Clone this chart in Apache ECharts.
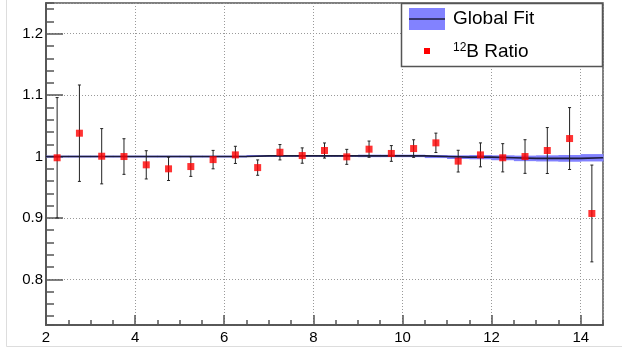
<!DOCTYPE html>
<html>
<head>
<meta charset="utf-8">
<script src="https://cdn.jsdelivr.net/npm/echarts@6/dist/echarts.min.js"></script>
<style>html,body{margin:0;padding:0;background:#fff}#c{width:622px;height:349px}</style>
</head>
<body>
<div id="c"></div>
<script>
// ---- data ----
var xVals = [2.25,2.75,3.25,3.75,4.25,4.75,5.25,5.75,6.25,6.75,7.25,7.75,8.25,8.75,9.25,9.75,10.25,10.75,11.25,11.75,12.25,12.75,13.25,13.75,14.25];
var ratio = [0.998,1.038,1.0005,1.000,0.9865,0.980,0.9837,0.995,1.0027,0.982,1.007,1.0016,1.0098,0.9995,1.012,1.005,1.013,1.0223,0.9925,1.0027,0.998,1.000,1.0098,1.0293,0.9073];
var ratioErr = [0.098,0.0785,0.045,0.029,0.023,0.019,0.016,0.015,0.014,0.0125,0.0125,0.0125,0.0123,0.0122,0.0132,0.0128,0.0143,0.0158,0.0177,0.0195,0.023,0.0274,0.0374,0.0504,0.0788];
var fitEdges = [2,2.5,3,3.5,4,4.5,5,5.5,6,6.5,7,7.5,8,8.5,9,9.5,10,10.5,11,11.5,12,12.5,13,13.5,14,14.5];
var fitVal = [1.000,1.000,1.000,1.000,1.000,1.000,1.000,1.000,1.000,1.001,1.001,1.001,1.001,1.001,1.001,1.001,1.001,1.000,0.999,0.999,0.998,0.997,0.997,0.997,0.998];
var fitErr = [0.0015,0.0015,0.0015,0.0015,0.0015,0.0015,0.0015,0.0015,0.0015,0.0015,0.0015,0.0015,0.0015,0.0015,0.002,0.002,0.002,0.0025,0.003,0.0035,0.004,0.0045,0.005,0.0055,0.006];
var xTickLabels = ['2','4','6','8','10','12','14'];
var yTickLabels = ['0.8','0.9','1','1.1','1.2'];

// ---- build ----
var lineData = [], bandData = [];
for (var i = 0; i < fitVal.length; i++) {
  lineData.push([fitEdges[i], fitVal[i]]);
  bandData.push([fitEdges[i], fitEdges[i + 1], fitVal[i] - fitErr[i], fitVal[i] + fitErr[i]]);
}
var last = fitVal.length - 1;
lineData.push([fitEdges[last + 1], fitVal[last]]);

var pts = [], errs = [];
for (var j = 0; j < xVals.length; j++) {
  pts.push([xVals[j], ratio[j]]);
  errs.push([xVals[j], ratio[j], ratioErr[j]]);
}

var FONT = 'Liberation Sans, Arial, sans-serif';
var GRID = {left: 46, right: 19, top: 3, bottom: 24};
var TICK = '#555';
var TW = 1.5;
var chart = echarts.init(document.getElementById('c'), null, {renderer: 'canvas'});

function fmtX(v) {
  var s = String(Math.round(v * 1000) / 1000);
  return xTickLabels.indexOf(s) >= 0 ? s : '';
}
function fmtY(v) {
  var s = String(Math.round(v * 1000) / 1000);
  return yTickLabels.indexOf(s) >= 0 ? s : '';
}

chart.setOption({
  animation: false,
  backgroundColor: '#fff',
  grid: {left: GRID.left, right: GRID.right, top: GRID.top, bottom: GRID.bottom, show: true, borderColor: TICK, borderWidth: TW, backgroundColor: 'transparent'},
  xAxis: [{
    type: 'value', min: 2, max: 14.5, interval: 2,
    axisLine: {show: true, lineStyle: {color: TICK, width: TW}},
    axisTick: {show: true, inside: true, length: 10, lineStyle: {color: TICK, width: TW}},
    axisLabel: {show: true, formatter: fmtX, margin: 5, fontSize: 15, color: '#000', fontFamily: FONT, showMaxLabel: false},
    splitLine: {show: true, lineStyle: {color: '#999', type: [1, 2], width: 1}}
  }, {
    type: 'value', min: 2, max: 14.5, interval: 0.5, position: 'bottom',
    axisLine: {show: true, lineStyle: {color: TICK, width: TW}},
    axisTick: {show: true, inside: true, length: 5, lineStyle: {color: TICK, width: TW}},
    axisLabel: {show: false}, splitLine: {show: false}
  }],
  yAxis: [{
    type: 'value', min: 0.7257, max: 1.25, splitNumber: 5,
    axisLine: {show: true, lineStyle: {color: TICK, width: TW}},
    axisTick: {show: true, inside: true, length: 17, lineStyle: {color: TICK, width: TW}},
    axisLabel: {show: true, formatter: fmtY, margin: 3, fontSize: 15, color: '#000', fontFamily: FONT, showMinLabel: false, showMaxLabel: false},
    splitLine: {show: true, lineStyle: {color: '#999', type: [1, 2], width: 1}}
  }, {
    type: 'value', min: 0.7257, max: 1.25, splitNumber: 26, position: 'left',
    axisLine: {show: true, lineStyle: {color: TICK, width: TW}},
    axisTick: {show: true, inside: true, length: 8, lineStyle: {color: TICK, width: TW}},
    axisLabel: {show: false}, splitLine: {show: false}
  }],
  series: [{
    name: 'band', type: 'custom', data: bandData,
    renderItem: function (params, api) {
      var p0 = api.coord([api.value(0), api.value(3)]);
      var p1 = api.coord([api.value(1), api.value(2)]);
      return {type: 'rect', shape: {x: p0[0], y: p0[1], width: p1[0] - p0[0] + 0.5, height: p1[1] - p0[1]}, style: {fill: '#8282ff'}};
    },
    silent: true, z: 1
  }, {
    name: 'Global Fit', type: 'line', step: 'end', data: lineData,
    showSymbol: false, symbol: 'none', lineStyle: {color: '#1c1c3c', width: 1.6}, z: 2
  }, {
    name: 'errors', type: 'custom', data: errs,
    renderItem: function (params, api) {
      var x = api.value(0), y = api.value(1), e = api.value(2);
      var top = api.coord([x, y + e]);
      var bot = api.coord([x, y - e]);
      var c = 1.5;
      var st = {stroke: '#222', lineWidth: 1};
      return {type: 'group', children: [
        {type: 'line', shape: {x1: top[0], y1: top[1], x2: bot[0], y2: bot[1]}, style: st},
        {type: 'line', shape: {x1: top[0] - c, y1: top[1], x2: top[0] + c, y2: top[1]}, style: st},
        {type: 'line', shape: {x1: bot[0] - c, y1: bot[1], x2: bot[0] + c, y2: bot[1]}, style: st}
      ]};
    },
    z: 3
  }, {
    name: '12B Ratio', type: 'scatter', data: pts, symbol: 'rect', symbolSize: 7,
    itemStyle: {color: '#ff0000'}, z: 4
  }],
  graphic: [
    {type: 'line', shape: {x1: 6.5, y1: 0, x2: 6.5, y2: 346.5}, style: {stroke: '#ddd', lineWidth: 1}},
    {type: 'line', shape: {x1: 6.5, y1: 346.5, x2: 622, y2: 346.5}, style: {stroke: '#ddd', lineWidth: 1}},
    {type: 'rect', shape: {x: 401.5, y: 3.5, width: 201, height: 63}, style: {fill: '#fff', stroke: '#555', lineWidth: 1.5}, z: 10},
    {type: 'rect', shape: {x: 409, y: 8, width: 36, height: 22}, style: {fill: '#8282ff'}, z: 11},
    {type: 'line', shape: {x1: 409, y1: 19, x2: 445, y2: 19}, style: {stroke: '#1c1c3c', lineWidth: 1.6}, z: 12},
    {type: 'text', x: 453, y: 19, style: {text: 'Global Fit', fill: '#000', font: '19px ' + FONT, verticalAlign: 'middle'}, z: 12},
    {type: 'rect', shape: {x: 424, y: 48, width: 6, height: 6}, style: {fill: '#ff0000'}, z: 11},
    {type: 'text', x: 453, y: 52, style: {
      text: '{s|12}{n|B Ratio}', verticalAlign: 'middle',
      rich: {s: {fontSize: 12, fontFamily: FONT, fill: '#000', verticalAlign: 'top', padding: [0, 0, 8, 0]}, n: {fontSize: 19, fontFamily: FONT, fill: '#000'}}
    }, z: 12}
  ]
});
</script>
</body>
</html>
